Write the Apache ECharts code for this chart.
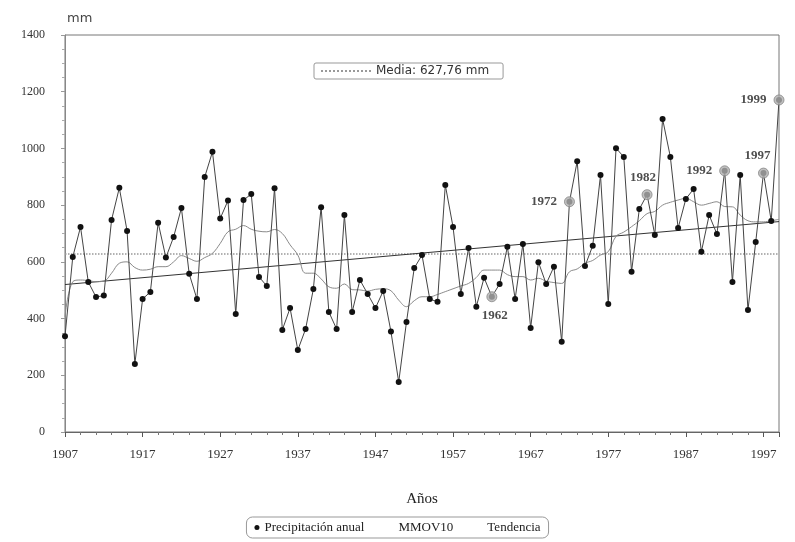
<!DOCTYPE html>
<html>
<head>
<meta charset="utf-8">
<script src="https://cdn.jsdelivr.net/npm/echarts@6/dist/echarts.min.js"></script>
<style>
html,body{margin:0;padding:0;background:#fff;}
#chart{width:795px;height:542px;}
</style>
</head>
<body>
<div id="chart"></div>
<script>
const firstYear = 1907;
const years = [1907,1908,1909,1910,1911,1912,1913,1914,1915,1916,1917,1918,1919,1920,1921,1922,1923,1924,1925,1926,
1927,1928,1929,1930,1931,1932,1933,1934,1935,1936,1937,1938,1939,1940,1941,1942,1943,1944,1945,1946,
1947,1948,1949,1950,1951,1952,1953,1954,1955,1956,1957,1958,1959,1960,1961,1962,1963,1964,1965,1966,
1967,1968,1969,1970,1971,1972,1973,1974,1975,1976,1977,1978,1979,1980,1981,1982,1983,1984,1985,1986,
1987,1988,1989,1990,1991,1992,1993,1994,1995,1996,1997,1998,1999];
const precip = [338,617,723,529,476,481,748,861,709,240,469,494,738,615,688,790,558,469,899,988,
753,816,416,818,839,547,515,860,360,437,289,363,504,793,423,363,765,423,536,487,
437,497,354,176,388,578,624,469,459,871,723,487,649,442,544,477,522,653,469,663,
367,599,522,583,318,812,955,585,657,906,451,1001,970,565,786,837,695,1104,970,719,
822,857,636,765,698,921,529,906,430,670,913,744,1171];
const mmov10 = [406,530,536,534,530,532,560,595,600,580,571,574,583,583,600,622,612,602,615,630,
665,706,715,728,715,708,706,714,700,660,624,560,560,540,512,507,522,502,501,497,
503,505,498,465,442,463,477,477,485,495,505,515,524,545,571,571,571,555,548,548,
536,542,532,527,524,565,575,595,605,624,636,690,705,724,745,770,778,800,810,818,
824,812,800,806,812,795,794,765,745,741,741,745,750];
const trendYears = [1907, 1999];
const trendValues = [520, 742];
const mediaValue = 627.76;
const highlightYears = [1962, 1972, 1982, 1992, 1997, 1999];
const yTicks = [0, 1400, 200];

const labelPlacement = {
  1962: {position: 'bottom', offset: [3, 2]},
  1972: {position: 'left', offset: [-2, 0]},
  1982: {position: 'top', offset: [-4, 0]},
  1992: {position: 'left', offset: [-2, 0]},
  1997: {position: 'top', offset: [-6, 0]},
  1999: {position: 'left', offset: [-2, 0]}
};

const xOf = y => y - firstYear;
const mainData = years.map((y, i) => [xOf(y), precip[i]]);
const mmovData = years.map((y, i) => [xOf(y), mmov10[i]]);
const trendData = trendYears.map((y, i) => [xOf(y), trendValues[i]]);
const mediaData = [[xOf(years[0]), mediaValue], [xOf(years[years.length - 1]), mediaValue]];
const hlData = highlightYears.map(y => {
  const i = years.indexOf(y);
  const p = labelPlacement[y];
  return {
    value: [xOf(y), precip[i]],
    label: {show: true, formatter: String(y), position: p.position, offset: p.offset}
  };
});

const serif = 'Liberation Serif';
const chart = echarts.init(document.getElementById('chart'), null, {renderer: 'canvas'});
chart.setOption({
  backgroundColor: '#ffffff',
  animation: false,
  grid: {left: 65, right: 16, top: 35, bottom: 110, show: true, borderColor: '#777', borderWidth: 1},
  xAxis: {
    type: 'value', min: 0, max: xOf(years[years.length - 1]), interval: 10,
    name: 'Años', nameLocation: 'middle', nameGap: 60,
    nameTextStyle: {fontFamily: serif, fontSize: 15, color: '#222'},
    axisLine: {show: true, lineStyle: {color: '#666', width: 1}},
    axisTick: {show: true, length: 5, lineStyle: {color: '#555'}},
    minorTick: {show: true, splitNumber: 5, length: 3, lineStyle: {color: '#777'}},
    splitLine: {show: false},
    axisLabel: {
      fontFamily: serif, fontSize: 13, color: '#333', margin: 16,
      showMaxLabel: false,
      formatter: v => String(v + firstYear)
    }
  },
  yAxis: {
    type: 'value', min: yTicks[0], max: yTicks[1], interval: yTicks[2],
    name: 'mm', nameLocation: 'end', nameGap: 10,
    nameTextStyle: {fontFamily: 'DejaVu Sans', fontSize: 13, color: '#444', align: 'left', padding: [0, 0, 0, 2]},
    axisLine: {show: true, lineStyle: {color: '#888', width: 1}},
    axisTick: {show: true, length: 4, lineStyle: {color: '#999'}},
    minorTick: {show: true, splitNumber: 4, length: 3, lineStyle: {color: '#aaa'}},
    splitLine: {show: false},
    axisLabel: {fontFamily: serif, fontSize: 12, color: '#333', margin: 20, formatter: v => String(v)}
  },
  legend: [
    {
      data: [
        {name: 'Precipitación anual', icon: 'circle'},
        {name: 'MMOV10', icon: 'none'},
        {name: 'Tendencia', icon: 'none'}
      ],
      bottom: 4, left: 'center',
      itemWidth: 5, itemHeight: 5, itemGap: 24,
      borderColor: '#999', borderWidth: 1, borderRadius: 6,
      padding: [4, 8, 4, 8],
      textStyle: {fontFamily: serif, fontSize: 13, color: '#222'}
    },
    {
      data: ['Media: 627,76 mm'],
      top: 63, left: 314,
      itemWidth: 50, itemHeight: 10, itemGap: 4,
      itemStyle: {opacity: 0},
      borderColor: '#999', borderWidth: 1, borderRadius: 2,
      padding: [2, 14, 2, 6],
      textStyle: {fontFamily: 'DejaVu Sans', fontSize: 12, color: '#333'}
    }
  ],
  series: [
    {
      name: 'Media: 627,76 mm', type: 'line', data: mediaData, symbol: 'none',
      itemStyle: {color: '#999'},
      lineStyle: {color: '#999', width: 1.5, type: 'dotted'}, silent: true, z: 1
    },
    {
      name: 'Tendencia', type: 'line', data: trendData, symbol: 'none',
      itemStyle: {color: '#333'},
      lineStyle: {color: '#333', width: 1}, silent: true, z: 2
    },
    {
      name: 'MMOV10', type: 'line', data: mmovData, symbol: 'none', smooth: 0.4,
      itemStyle: {color: '#8a8a8a'},
      lineStyle: {color: '#8a8a8a', width: 1}, silent: true, z: 2
    },
    {
      name: 'Precipitación anual', type: 'line', data: mainData,
      symbol: 'circle', symbolSize: 6,
      itemStyle: {color: '#111'},
      lineStyle: {color: '#444', width: 1}, z: 3
    },
    {
      name: 'Destacados', type: 'scatter', data: hlData,
      symbol: 'circle', symbolSize: 10,
      itemStyle: {color: '#b0b0b0', borderColor: '#888', borderWidth: 1},
      label: {fontFamily: serif, fontSize: 13, fontWeight: 'bold', color: '#222'},
      z: 4
    }
  ]
});
</script>
</body>
</html>
